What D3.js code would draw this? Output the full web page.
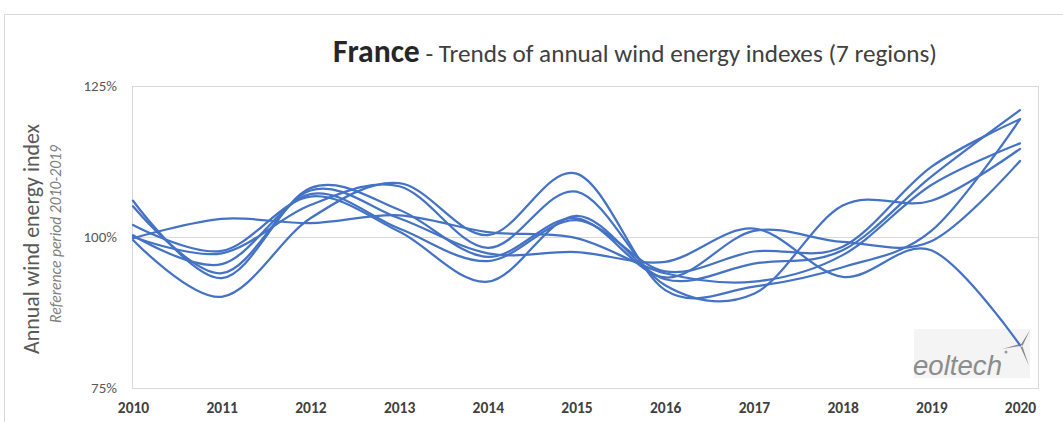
<!DOCTYPE html>
<html>
<head>
<meta charset="utf-8">
<script src="https://cdn.jsdelivr.net/npm/d3@7"></script>
<style>
  body { margin: 0; background: #fff; }
  svg { display: block; font-family: Carlito, Calibri, "Open Sans", sans-serif; }
</style>
</head>
<body>
<script>
// years on the x axis
var years = [2010, 2011, 2012, 2013, 2014, 2015, 2016, 2017, 2018, 2019, 2020];
// 7 regional wind energy indexes, in %
var region1 = [106.0, 93.2, 108.1, 104.5, 96.7, 103.1, 93.3, 101.0, 99.2, 99.3, 112.6];
var region2 = [105.1, 94.0, 107.7, 103.1, 97.3, 97.5, 95.9, 101.4, 93.4, 97.8, 82.1];
var region3 = [100.3, 95.5, 107.1, 101.4, 96.0, 102.8, 94.3, 97.6, 98.4, 111.6, 119.5];
var region4 = [102.0, 97.7, 106.7, 100.9, 92.6, 103.5, 93.0, 95.6, 97.8, 110.0, 121.0];
var region5 = [99.8, 103.0, 102.3, 103.6, 100.8, 99.8, 94.0, 92.6, 97.0, 108.6, 115.5];
var region6 = [99.5, 90.1, 103.1, 108.9, 100.3, 110.5, 91.2, 91.8, 95.0, 101.0, 119.5];
var region7 = [100.05, 97.3, 105.3, 108.4, 98.2, 107.5, 92.0, 90.6, 105.2, 106.0, 114.6];
var yTicks = [75, 100, 125];

var W = 1063, H = 422;
var svg = d3.select("body").append("svg")
  .attr("width", W)
  .attr("height", H)

// outer chart frame
svg.append("path")
  .attr("d", "M4.5," + H + "V14.5H" + W)
  .attr("fill", "none")
  .attr("stroke", "#d9d9d9")

var x = d3.scaleLinear().domain([2010, 2020]).range([133, 1020]);
var y = d3.scaleLinear().domain([75, 125]).range([388, 86]);

// plot area border
svg.append("rect")
  .attr("x", 132.5).attr("y", y(125) + 0.5)
  .attr("width", 1038 - 132).attr("height", y(75) - y(125))
  .attr("fill", "none")
  .attr("stroke", "#d9d9d9")

// 100% gridline
svg.append("line")
  .attr("x1", 133).attr("x2", 1038)
  .attr("y1", Math.round(y(100)) + 0.5).attr("y2", Math.round(y(100)) + 0.5)
  .attr("stroke", "#d9d9d9")

// y axis
var yAxis = svg.append("g")
  .attr("transform", "translate(117,0)")
  .call(d3.axisLeft(y).tickValues(yTicks).tickSize(0).tickPadding(0).tickFormat(d => d + "%"))
yAxis.select(".domain").remove()
yAxis.selectAll("text")
  .attr("fill", "#595959")
  .style("font-size", "15px")
  .style("font-family", "Carlito, Calibri, 'Open Sans', sans-serif")

// x axis
var xAxis = svg.append("g")
  .attr("transform", "translate(0,402)")
  .call(d3.axisBottom(x).tickValues(years).tickSize(0).tickPadding(0).tickFormat(d3.format("d")))
xAxis.select(".domain").remove()
xAxis.selectAll("text")
  .attr("fill", "#404040")
  .style("font-weight", "bold")
  .style("font-size", "15.5px")
  .style("font-family", "Carlito, Calibri, 'Open Sans', sans-serif")

// axis titles
var yt = svg.append("text")
  .attr("transform", "translate(39,239) rotate(-90)")
  .attr("text-anchor", "middle")
  .attr("fill", "#595959")
  .style("font-size", "18px")
  .text("Annual wind energy index")
fitWidth(yt, 230, 18)
var ys = svg.append("text")
  .attr("transform", "translate(61,234) rotate(-90)")
  .attr("text-anchor", "middle")
  .attr("fill", "#7f7f7f")
  .style("font-size", "12px")
  .style("font-style", "italic")
  .text("Reference period 2010-2019")
fitWidth(ys, 178, 12)

// title
var title = svg.append("text")
  .attr("x", 635).attr("y", 62)
  .attr("text-anchor", "middle")
  .attr("fill", "#404040")
title.append("tspan").attr("class", "big")
  .style("font-weight", "bold").attr("fill", "#262626")
  .text("France")
title.append("tspan").attr("class", "small")
  .text(" - Trends of annual wind energy indexes (7 regions)")
// scale font so the title spans the same width as the original
var k = 1;
for (var i = 0; i < 4; i++) {
  title.select(".big").style("font-size", (22 * k) + "px")
  title.select(".small").style("font-size", (17.5 * k) + "px")
  k = k * 604 / title.node().getComputedTextLength()
}

function fitWidth(sel, target, size) {
  var s = size;
  for (var i = 0; i < 4; i++) {
    sel.style("font-size", s + "px")
    s = s * target / sel.node().getComputedTextLength()
  }
}

// eoltech logo
var logo = svg.append("g")
logo.append("rect")
  .attr("x", 914).attr("y", 329).attr("width", 116).attr("height", 49)
  .attr("fill", "#f4f4f4")
var lt = logo.append("text")
  .attr("x", 913).attr("y", 375)
  .attr("fill", "#8c8c8c")
  .style("font-family", "'Liberation Sans', Arial, sans-serif")
  .style("font-style", "italic")
  .style("font-size", "24px")
  .text("eoltech")
fitWidth(lt, 89, 24)
logo.append("circle").attr("cx", 1006).attr("cy", 352).attr("r", 1.5).attr("fill", "#999")
logo.append("path")
  .attr("d", "M1020,346 L1030,330 L1022,347 Z M1020,346 L1002,349 L1020,344 Z M1020,346 L1029,366 L1022,345 Z")
  .attr("fill", "#888")

// lines
var regions = [region1, region2, region3, region4, region5, region6, region7];
var line = d3.line()
  .x((d, i) => x(years[i]))
  .y(d => y(d))
  .curve(d3.curveCatmullRom.alpha(0))
svg.append("g")
  .selectAll("path")
  .data(regions)
  .enter().append("path")
  .attr("d", line)
  .attr("fill", "none")
  .attr("stroke", "#4472c4")
  .attr("stroke-width", 2.25)
  .attr("stroke-linecap", "round")
</script>
</body>
</html>
